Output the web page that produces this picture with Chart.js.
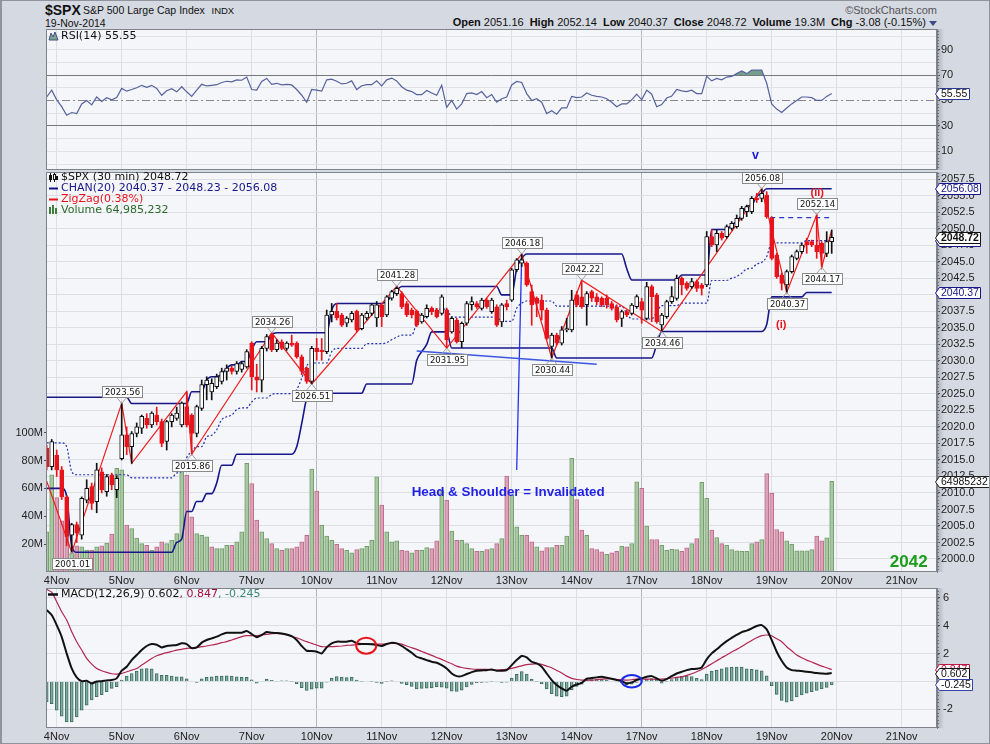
<!DOCTYPE html>
<html>
<head>
<meta charset="utf-8">
<title>$SPX 30 min</title>
<script src="https://cdn.jsdelivr.net/npm/chart.js@4.4.1/dist/chart.umd.min.js"></script>
<style>
html,body{margin:0;padding:0}
body{width:990px;height:744px;position:relative;overflow:hidden;background:#d5d9e1;font-family:"Liberation Sans",Arial,sans-serif;color:#111}
.t{position:absolute;white-space:nowrap;line-height:1}
.pane{position:absolute;left:0;width:990px}
.pane canvas{display:block}
#frame{position:absolute;left:0;top:0;width:990px;height:744px;box-sizing:border-box;border:1px solid #8f949c;border-left-width:2px;pointer-events:none}
.b{font-weight:bold}
#quote span{margin-right:6px}
#tri{position:absolute;left:929px;top:21px;width:0;height:0;border-left:4px solid transparent;border-right:4px solid transparent;border-top:5px solid #3b4a8c}
</style>
</head>
<body>
<div class="t b" style="left:45px;top:3px;font-size:14px">$SPX</div>
<div class="t" style="left:83px;top:5px;font-size:10.5px">S&amp;P 500 Large Cap Index</div>
<div class="t" style="left:211.5px;top:5.9px;font-size:9.5px">INDX</div>
<div class="t" style="left:45px;top:17.8px;font-size:10.5px">19-Nov-2014</div>
<div class="t" style="right:53px;top:4.7px;font-size:11px;color:#555">&copy;StockCharts.com</div>
<div class="t" id="quote" style="left:452.7px;top:17.4px;font-size:11px"><span><b>Open</b> 2051.16</span><span><b>High</b> 2052.14</span><span><b>Low</b> 2040.37</span><span><b>Close</b> 2048.72</span><span><b>Volume</b> 19.3M</span><span><b>Chg</b> -3.08 (-0.15%)</span></div>
<div id="tri"></div>

<div class="pane" style="top:29px;height:141px"><canvas id="cRsi" width="990" height="141"></canvas></div>
<div class="pane" style="top:172px;height:416px"><canvas id="cMain" width="990" height="416"></canvas></div>
<div class="pane" style="top:588px;height:156px"><canvas id="cMacd" width="990" height="156"></canvas></div>
<div id="frame"></div>

<script>
// ---------------- categories / ticks ----------------
const DAY_LABELS = ['4Nov','5Nov','6Nov','7Nov','10Nov','11Nov','12Nov','13Nov','14Nov','17Nov','18Nov','19Nov','20Nov','21Nov'];
const WEEK_STARTS = ['10Nov','17Nov'];
const BARS_PER_DAY = 13;      // 30-minute bars per session
const FIRST_BAR = -2;         // two bars from 3-Nov are visible before 4-Nov
const PRICE_TICKS = [2000,2002.5,2005,2007.5,2010,2012.5,2015,2017.5,2020,2022.5,2025,2027.5,2030,2032.5,2035,2037.5,2040,2042.5,2045,2047.5,2050,2052.5,2055,2057.5];
const VOL_TICKS = [20,40,60,80,100];
const RSI_TICKS = [0,10,20,30,40,50,60,70,80,90,100];
const RSI_LABELS = [10,30,50,70,90];
const MACD_TICKS = [-2,0,2,4,6];

// ---------------- price bars ($SPX 30 min) ----------------
const OP = [2016.8,2014.0,
2015.7,2013.5,2009.4,2003.6,2005.2,2003.6,2008.9,2010.95,2008.7,2013.2,2010.2,2012.7,2010.5,
2015.2,2018.8,2017.0,2019.0,2019.8,2021.3,2020.3,2021.8,2020.8,2017.8,2020.8,2021.3,2020.3,
2023.1,2021.8,2019.0,2022.8,2026.4,2025.3,2026.1,2026.9,2028.4,2028.9,2028.4,2028.7,2029.1,
2032.7,2027.6,2027.1,2031.9,2033.9,2031.7,2032.9,2031.9,2032.7,2032.7,2030.6,2028.9,2026.9,
2031.9,2031.6,2031.4,2036.95,2037.5,2036.95,2035.7,2036.2,2037.5,2034.9,2036.5,2037.2,2036.5,
2038.5,2036.95,2039.5,2040.2,2040.2,2038.7,2037.7,2037.5,2035.9,2036.7,2037.96,2037.7,2037.2,
2037.7,2034.4,2036.2,2032.9,2035.7,2038.5,2038.7,2037.96,2039.2,2037.46,2038.2,2035.9,2038.7,
2039.2,2043.8,2044.8,2044.8,2040.5,2039.5,2039.2,2037.7,2032.2,2033.9,2032.7,2034.7,2034.7,
2040.0,2039.7,2038.5,2040.5,2039.7,2039.5,2039.5,2038.7,2038.2,2036.45,2037.46,2037.2,2038.2,
2038.97,2036.45,2041.25,2039.98,2035.44,2036.7,2038.97,2039.48,2042.51,2041.75,2041.25,2042.0,2041.5,
2041.5,2048.82,2047.56,2049.32,2048.82,2050.08,2050.33,2051.59,2052.6,2052.6,2054.62,2054.62,2055.13,
2051.59,2046.04,2043.01,2041.5,2043.52,2045.54,2046.55,2048.06,2048.06,2047.56,2047.81,2046.29,2048.06];
const HI = [2017.2,2018.1,
2016.5,2014.0,2009.6,2005.4,2005.6,2009.4,2012.0,2011.5,2014.5,2013.8,2012.8,2013.0,2012.6,
2023.56,2020.0,2019.3,2020.6,2021.8,2022.0,2022.3,2023.0,2021.2,2021.0,2022.0,2023.0,2023.8,
2025.34,2022.0,2023.3,2027.1,2027.6,2027.3,2028.0,2028.9,2029.4,2029.2,2029.9,2029.9,2031.7,
2032.9,2029.5,2032.2,2034.0,2034.26,2033.2,2033.2,2032.9,2033.9,2032.9,2030.9,2029.1,2032.2,
2033.4,2033.4,2037.7,2038.7,2038.7,2037.2,2036.7,2037.5,2037.7,2037.2,2037.5,2038.7,2039.0,
2038.7,2039.9,2040.7,2041.28,2040.5,2039.0,2038.0,2037.7,2037.2,2038.5,2038.2,2037.96,2040.0,
2038.0,2036.7,2036.45,2035.9,2039.0,2039.7,2039.0,2039.5,2039.5,2039.5,2038.5,2038.7,2039.2,
2044.0,2045.5,2046.18,2045.0,2041.5,2039.7,2040.0,2038.0,2034.2,2034.2,2035.2,2036.45,2040.7,
2040.5,2042.22,2040.5,2040.7,2040.2,2039.7,2040.0,2039.0,2038.5,2037.7,2037.7,2038.7,2040.0,
2039.5,2041.9,2041.5,2040.24,2037.2,2039.2,2041.25,2043.01,2042.76,2042.0,2042.5,2042.26,2041.75,
2049.6,2049.83,2049.83,2049.6,2050.6,2051.1,2052.1,2053.4,2053.6,2054.9,2055.38,2056.08,2055.63,
2051.85,2046.3,2043.3,2043.77,2046.04,2046.8,2047.81,2048.57,2048.3,2052.14,2048.06,2049.57,2049.83];
const LO = [2013.5,2013.5,
2012.5,2009.0,2002.0,2001.01,2002.5,2003.0,2008.5,2007.5,2007.0,2010.0,2009.5,2010.5,2009.3,
2015.0,2015.8,2014.49,2018.5,2019.0,2019.8,2019.9,2020.3,2017.0,2016.5,2020.0,2021.0,2020.0,
2020.0,2015.86,2018.5,2022.5,2024.1,2024.1,2025.8,2026.5,2027.1,2028.0,2028.0,2028.3,2028.9,
2025.6,2025.3,2025.3,2031.5,2031.4,2031.4,2031.7,2031.6,2032.2,2030.4,2027.9,2026.6,2026.51,
2030.1,2030.1,2031.1,2035.9,2036.2,2035.2,2035.2,2035.9,2034.4,2034.7,2036.2,2036.9,2035.2,
2035.2,2036.7,2039.2,2039.9,2037.9,2036.7,2036.5,2035.2,2035.7,2036.5,2037.0,2036.5,2036.95,
2031.95,2034.2,2032.7,2032.0,2035.4,2037.7,2037.96,2037.7,2037.96,2037.2,2035.2,2035.2,2037.7,
2039.0,2043.5,2044.3,2041.3,2035.4,2036.7,2036.2,2033.2,2030.44,2032.4,2032.4,2034.4,2034.4,
2038.2,2037.96,2035.4,2039.0,2038.5,2038.2,2038.0,2037.7,2035.9,2035.2,2036.7,2036.95,2037.96,
2035.7,2036.2,2035.94,2035.69,2034.46,2036.45,2038.7,2039.2,2040.0,2040.7,2040.99,2040.5,2039.98,
2041.25,2047.3,2046.55,2048.3,2048.6,2049.8,2050.1,2051.3,2051.85,2052.3,2054.0,2054.1,2051.6,
2045.3,2042.5,2040.74,2040.37,2043.3,2045.3,2046.3,2046.3,2047.3,2045.54,2044.17,2045.79,2046.29];
const CL = [2014.0,2017.8,
2013.5,2009.4,2003.4,2005.2,2003.9,2009.2,2010.7,2008.4,2013.5,2010.45,2012.5,2011.2,2012.2,
2018.8,2017.0,2019.0,2020.0,2021.6,2020.3,2022.1,2020.8,2017.5,2020.8,2021.8,2022.1,2023.6,
2020.3,2019.0,2023.1,2026.4,2027.1,2026.6,2027.6,2028.4,2028.9,2028.4,2029.6,2029.6,2031.4,
2027.6,2027.1,2031.9,2033.7,2031.7,2032.7,2031.9,2032.7,2032.4,2030.6,2028.4,2026.9,2031.9,
2031.4,2031.4,2036.95,2037.5,2036.5,2035.4,2036.5,2037.2,2034.7,2036.95,2037.2,2038.5,2038.5,
2036.7,2039.7,2040.5,2041.0,2038.2,2036.95,2036.95,2035.4,2036.95,2037.96,2037.46,2036.7,2039.7,
2033.2,2036.45,2032.9,2035.7,2038.7,2038.97,2038.2,2039.2,2038.2,2039.2,2035.4,2038.5,2038.2,
2043.8,2045.3,2045.3,2041.5,2038.5,2038.7,2037.7,2033.4,2033.9,2032.7,2034.7,2034.9,2039.2,
2038.5,2038.2,2040.2,2039.5,2038.97,2038.5,2038.5,2037.96,2036.2,2037.46,2036.95,2038.47,2039.73,
2037.7,2041.25,2039.73,2035.94,2036.95,2038.97,2039.73,2042.51,2041.5,2040.99,2042.0,2040.99,2040.99,
2048.82,2047.56,2049.32,2048.57,2050.33,2050.84,2051.59,2053.11,2053.36,2054.62,2054.37,2055.38,2051.85,
2045.54,2042.76,2041.75,2043.52,2045.79,2046.55,2047.56,2047.56,2047.56,2046.55,2046.29,2048.06,2048.72];
// volume, millions of shares
const VOL = [28.8,69.7,
53.4,36.7,26.0,14.0,18.8,18.1,15.7,15.7,18.1,18.8,20.7,27.2,74.4,
73.3,33.6,31.2,24.3,20.4,19.2,15.6,18.0,21.6,20.4,22.8,27.6,73.1,
69.5,39.6,27.6,26.4,25.2,18.0,16.8,16.8,19.2,19.2,21.6,28.8,77.9,
63.5,37.2,28.8,24.0,20.4,16.8,15.6,16.8,16.8,18.0,21.6,26.4,73.9,
58.0,33.6,25.7,22.8,19.9,16.8,15.6,13.7,16.1,16.8,18.5,22.8,68.3,
48.0,28.8,21.6,22.3,15.6,15.1,13.7,15.6,15.6,17.5,16.8,22.3,58.8,
51.6,29.3,22.8,22.8,20.4,16.8,14.9,14.9,16.1,16.8,20.4,24.0,68.8,
55.2,32.4,26.4,26.4,21.6,18.0,15.1,17.5,17.5,19.2,19.2,25.7,81.5,
52.0,30.0,26.4,16.8,16.1,14.4,12.7,13.7,14.9,18.5,18.0,20.4,64.7,
60.0,32.9,23.3,23.3,19.2,15.6,16.3,16.1,14.9,17.3,20.4,24.0,64.3,
52.8,30.0,24.7,20.4,19.2,16.1,15.1,14.9,14.9,20.4,21.6,23.3,70.7,
56.4,30.5,28.8,22.3,19.9,15.1,15.1,15.1,16.1,25.7,22.3,24.5,64.985232];

// ---------------- price channel CHAN(20) ----------------
const CH_UP = [2024.5,2024.5,
2024.5,2024.5,2024.5,2024.5,2024.5,2024.5,2024.5,2024.5,2024.5,2024.5,2024.5,2024.5,2024.5,
2024.5,2024.5,2023.56,2023.56,2023.56,2023.56,2023.56,2023.56,2023.56,2023.56,2023.56,2023.56,2023.56,
2023.56,2025.34,2025.34,2025.34,2027.1,2027.6,2027.6,2028.0,2028.9,2029.4,2029.4,2029.9,2029.9,
2031.7,2032.9,2032.9,2032.9,2034.0,2034.26,2034.26,2034.26,2034.26,2034.26,2034.26,2034.26,2034.26,
2034.26,2034.26,2034.26,2037.7,2038.7,2038.7,2038.7,2038.7,2038.7,2038.7,2038.7,2038.7,2038.7,
2038.7,2039.0,2039.9,2040.7,2041.28,2041.28,2041.28,2041.28,2041.28,2041.28,2041.28,2041.28,2041.28,
2041.28,2041.28,2041.28,2041.28,2041.28,2041.28,2041.28,2041.28,2041.28,2041.28,2041.28,2040.0,2040.0,
2040.0,2044.0,2045.5,2046.18,2046.18,2046.18,2046.18,2046.18,2046.18,2046.18,2046.18,2046.18,2046.18,
2046.18,2046.18,2046.18,2046.18,2046.18,2046.18,2046.18,2046.18,2046.18,2046.18,2044.0,2042.26,2042.26,
2042.26,2042.26,2042.26,2042.26,2042.26,2042.26,2042.26,2042.26,2043.01,2043.01,2043.01,2043.01,2043.01,
2043.01,2049.9,2049.9,2049.9,2049.9,2050.6,2051.1,2052.1,2053.4,2053.6,2054.9,2055.38,2056.08,
2056.08,2056.08,2056.08,2056.08,2056.08,2056.08,2056.08,2056.08,2056.08,2056.08,2056.08,2056.08,2056.08];
const CH_LO = [2010.7,2010.7,
2010.7,2010.7,2009.5,2002.0,2001.01,2001.01,2001.01,2001.01,2001.01,2001.01,2001.01,2001.01,2001.01,
2001.01,2001.01,2001.01,2001.01,2001.01,2001.01,2001.01,2001.01,2001.01,2001.01,2001.01,2002.5,2003.0,
2007.2,2007.2,2008.7,2008.7,2009.9,2009.9,2011.5,2014.2,2014.2,2014.2,2015.86,2015.86,2015.86,
2015.86,2015.86,2015.86,2015.86,2015.86,2015.86,2015.86,2015.86,2015.86,2017.0,2020.5,2024.3,2025.1,
2025.1,2025.1,2025.1,2025.1,2025.1,2025.1,2025.1,2025.1,2025.1,2025.1,2026.51,2026.51,2026.51,
2026.51,2026.51,2026.51,2026.51,2026.51,2026.51,2026.51,2030.1,2031.4,2032.5,2034.4,2034.4,2034.4,
2034.4,2031.95,2031.95,2031.95,2031.95,2031.95,2031.95,2031.95,2031.95,2031.95,2031.95,2031.95,2031.95,
2031.95,2031.95,2031.95,2031.95,2031.95,2031.95,2031.95,2031.95,2031.95,2030.44,2030.44,2030.44,2030.44,
2030.44,2030.44,2030.44,2030.44,2030.44,2030.44,2030.44,2030.44,2030.44,2030.44,2030.44,2030.44,2030.44,
2030.44,2030.44,2030.44,2032.5,2034.46,2034.46,2034.46,2034.46,2034.46,2034.46,2034.46,2034.46,2034.46,
2034.46,2034.46,2034.46,2034.46,2034.46,2034.46,2034.46,2034.46,2034.46,2034.46,2034.46,2034.46,2035.5,
2039.7,2039.7,2039.7,2039.7,2039.7,2039.7,2039.7,2040.37,2040.37,2040.37,2040.37,2040.37,2040.37];
const CH_MID = [2017.6,2017.6,
2017.6,2017.6,2017.0,2013.25,2012.76,2012.76,2012.76,2012.76,2012.76,2012.76,2012.76,2012.76,2012.76,
2012.76,2012.76,2012.29,2012.29,2012.29,2012.29,2012.29,2012.29,2012.29,2012.29,2012.29,2013.03,2013.28,
2015.38,2016.27,2017.02,2017.02,2018.5,2018.75,2019.55,2021.1,2021.55,2021.8,2022.63,2022.88,2022.88,
2023.78,2024.38,2024.38,2024.38,2024.93,2025.06,2025.06,2025.06,2025.06,2025.63,2027.38,2029.28,2029.68,
2029.68,2029.68,2029.68,2031.4,2031.9,2031.9,2031.9,2031.9,2031.9,2031.9,2032.61,2032.61,2032.61,
2032.61,2032.76,2033.21,2033.61,2033.9,2033.9,2033.9,2035.69,2036.34,2036.89,2037.84,2037.84,2037.84,
2037.84,2036.62,2036.62,2036.62,2036.62,2036.62,2036.62,2036.62,2036.62,2036.62,2036.62,2035.98,2035.98,
2035.98,2037.98,2038.73,2039.07,2039.07,2039.07,2039.07,2039.07,2039.07,2038.31,2038.31,2038.31,2038.31,
2038.31,2038.31,2038.31,2038.31,2038.31,2038.31,2038.31,2038.31,2038.31,2038.31,2037.22,2036.35,2036.35,
2036.35,2036.35,2036.35,2037.38,2038.36,2038.36,2038.36,2038.36,2038.74,2038.74,2038.74,2038.74,2038.74,
2038.74,2042.18,2042.18,2042.18,2042.18,2042.53,2042.78,2043.28,2043.93,2044.03,2044.68,2044.92,2045.79,
2047.89,2047.89,2047.89,2047.89,2047.89,2047.89,2047.89,2048.23,2048.23,2048.23,2048.23,2048.23,2048.23];

// ---------------- ZigZag(0.38%) pivots ----------------
const ZZ_BAR = [-2,3,13,15,26,27,43,51,68,78,93,99,105,121,141,146,152,153,155];
const ZZ_VAL = [2011.8,2001.01,2023.56,2014.49,2025.34,2015.86,2034.26,2026.51,2041.28,2031.95,2046.18,2030.44,2042.22,2034.46,2056.08,2040.37,2052.14,2044.17,2049.83];
const ZZ_SHOW = [0,1,1,0,0,1,1,1,1,1,1,1,1,1,1,1,1,1,0];

// ---------------- hand-drawn annotations (bar, value) ----------------
const NECK_BAR = [72,108];       const NECK_VAL = [2031.5,2029.48];
const HS_BAR = [93,92];          const HS_VAL = [2046.0,2013.47];
const RES_BAR = [142.7,155.3];   const RES_VAL = [2051.7,2051.7];
const NOTE_TEXT = ['(ii)','(i)','2042','Head & Shoulder = Invalidated'];
const NOTE_BAR = [152.1,144.9,170.4,90.3];
const NOTE_VAL = [2055.5,2035.43,1999.47,2010.07];
const RSI_NOTE_TEXT = ['v'];  const RSI_NOTE_BAR = [139.76]; const RSI_NOTE_VAL = [6.06];
const MACD_RING_BAR = [61.9,115]; const MACD_RING_VAL = [2.56,0.01];

// ---------------- RSI(14) ----------------
const RSI = [52.7,58.1,50.5,45.1,38.4,40.5,39.7,47.3,50,46.5,
52.7,49.2,52.2,50.5,52.2,59.5,57.3,58.6,60,61.9,
60.3,61.9,59.5,54.1,57.6,59.2,56.8,60.8,56.8,53.2,
58.1,62.7,61.4,61.9,62.4,64.1,65.1,64.6,66.2,65.9,
68.4,58.6,58.1,64.9,67.3,62.7,63.5,62.2,62.7,62.2,
58.6,54.1,48.6,58.6,58.1,57.3,66.2,66.8,65.1,63,
63.5,65.4,58.6,61.6,62.4,62.4,65.4,61.4,66.2,67.6,
65.4,60.8,58.1,57,54.6,54.6,57.8,55.9,54.1,61.9,
44.6,50,43.2,47.3,55.4,55.9,54.6,57,52.2,54.6,
48.6,51.4,52.7,62.2,64.9,64.1,55.4,50,51.4,48.6,
39.7,41.9,39.2,44.1,44.1,53.2,52.2,52.7,55.9,54.1,
53.2,52.7,51.4,48.6,45.1,47.3,47.3,50.5,54.9,50.5,
58.1,54.9,45.1,46.8,51.9,53.5,58.6,57.6,57,58.1,
55.4,55.4,68.9,65.4,67.3,66.2,68.4,68.9,71.1,73.2,
71.1,73.8,73.8,73.8,63.5,47.3,43.2,40.5,44.1,47.3,
50,52.7,52.7,52.2,50,50,53.2,55.55];

// ---------------- MACD(12,26,9) ----------------
const MACD = [5.12,4.76,
4.04,3.2,2.0,0.93,0.29,0.02,0.05,-0.14,0,0.02,0.07,0.1,0.22,
0.77,1.05,1.53,1.89,2.25,2.54,2.68,2.63,2.44,2.54,2.58,2.61,2.73,
2.68,2.39,2.44,2.78,2.97,3.09,3.21,3.37,3.49,3.49,3.49,3.49,3.61,
3.4,3.16,3.33,3.54,3.49,3.47,3.44,3.37,3.25,2.97,2.54,2.2,2.18,
2.13,2.01,2.44,2.73,2.85,2.85,2.85,2.92,2.73,2.68,2.68,2.66,2.61,
2.54,2.68,2.78,2.73,2.54,2.3,2.06,1.77,1.65,1.53,1.41,1.34,1.17,
0.93,0.57,0.38,0.38,0.53,0.67,0.77,0.79,0.81,0.86,0.77,0.77,0.81,
1.17,1.53,1.82,1.72,1.41,1.29,1.05,0.57,0.1,-0.26,-0.5,-0.67,-0.38,
-0.22,-0.1,0.19,0.24,0.29,0.33,0.26,0.19,0.1,0.02,-0.14,-0.07,0.1,
0.22,0.33,0.38,0.22,0.05,0.17,0.38,0.57,0.69,0.81,0.89,0.91,1.0,
1.58,2.01,2.3,2.61,2.89,3.13,3.33,3.54,3.64,3.8,3.97,4.04,3.73,
2.97,2.13,1.48,1.0,0.81,0.77,0.74,0.69,0.65,0.6,0.57,0.55,0.602];
const SIG = [6.6,6.4,
5.72,5.0,4.4,3.56,2.85,2.25,1.65,1.24,0.93,0.77,0.65,0.55,0.53,
0.57,0.69,0.81,0.93,1.17,1.41,1.65,1.84,1.96,2.06,2.15,2.25,2.3,
2.37,2.39,2.44,2.49,2.54,2.61,2.68,2.78,2.85,2.97,3.09,3.21,3.28,
3.28,3.28,3.33,3.37,3.42,3.44,3.4,3.33,3.23,3.13,2.99,2.85,2.73,
2.61,2.49,2.49,2.49,2.51,2.54,2.58,2.61,2.63,2.66,2.68,2.68,2.68,
2.68,2.7,2.73,2.73,2.68,2.54,2.42,2.3,2.15,2.01,1.87,1.72,1.58,
1.41,1.27,1.1,1.0,0.93,0.89,0.86,0.86,0.86,0.84,0.81,0.84,0.86,
0.93,1.03,1.12,1.2,1.24,1.27,1.22,1.1,0.98,0.79,0.6,0.38,0.22,
0.14,0.1,0.1,0.1,0.12,0.17,0.19,0.19,0.14,0.12,0.1,0.12,0.17,
0.17,0.17,0.17,0.14,0.17,0.19,0.24,0.29,0.33,0.43,0.55,0.69,0.86,
1.05,1.27,1.48,1.7,1.89,2.11,2.3,2.51,2.73,2.94,3.13,3.28,3.33,
3.28,3.06,2.85,2.49,2.2,1.89,1.7,1.53,1.39,1.24,1.1,0.98,0.847];
const HIST = [-1.46,-1.6,
-2.06,-2.5,-2.9,-2.9,-2.54,-2.06,-1.7,-1.33,-1.1,-0.95,-0.74,-0.5,-0.38,
0.1,0.38,0.57,0.74,0.9,0.93,0.9,0.57,0.43,0.43,0.38,0.33,0.33,
0.19,0,-0.07,0.19,0.29,0.33,0.38,0.38,0.4,0.38,0.33,0.29,0.29,
0.12,-0.12,0,0.17,0.07,0.03,0.04,0.04,0.02,-0.16,-0.45,-0.65,-0.55,
-0.48,-0.48,-0.05,0.24,0.34,0.31,0.27,0.31,0.1,0.02,0,-0.02,-0.07,
-0.14,-0.02,0.05,0,-0.14,-0.24,-0.36,-0.53,-0.5,-0.48,-0.46,-0.38,-0.41,
-0.48,-0.7,-0.72,-0.62,-0.4,-0.22,-0.09,-0.07,-0.05,0.02,-0.04,-0.07,-0.05,
0.24,0.5,0.7,0.52,0.17,0.02,-0.17,-0.53,-0.88,-1.05,-1.1,-1.05,-0.6,
-0.36,-0.2,0.09,0.14,0.17,0.16,0.07,0,-0.04,-0.1,-0.24,-0.19,-0.07,
0.05,0.16,0.21,0.08,-0.12,-0.02,0.14,0.28,0.36,0.38,0.34,0.22,0.14,
0.53,0.74,0.82,0.91,1.0,1.02,1.03,1.03,0.91,0.86,0.84,0.76,0.4,
-0.31,-0.93,-1.37,-1.49,-1.39,-1.12,-0.96,-0.84,-0.74,-0.64,-0.53,-0.43,-0.245];

// =============== rendering ===============
const BAR = OP.map((_, k) => FIRST_BAR + k);
const LAST = OP.length - 1;
const X_MIN = -2.14, X_MAX = 176.06;
const AX_FONT = {family: '"Liberation Sans", Arial, sans-serif', size: 11};
const LG_FONT = '11px "DejaVu Sans", Verdana, sans-serif';
const NAVY = '#17178a';
const RED = '#e8141c';

Chart.defaults.animation = false;
Chart.defaults.font.family = AX_FONT.family;
Chart.defaults.color = '#222';

const pts = (xs, ys) => xs.map((x, k) => ({x, y: ys[k]}));

function xScale(labels) {
  return {
    type: 'linear', min: X_MIN, max: X_MAX, offset: false,
    afterBuildTicks: s => { s.ticks = DAY_LABELS.map((_, k) => ({value: k * BARS_PER_DAY})); },
    afterFit: s => { s.height = labels ? 16 : 0; s.paddingLeft = 0; s.paddingRight = 0; },
    ticks: {display: labels, autoSkip: false, maxRotation: 0, minRotation: 0, padding: 2, color: '#222', font: AX_FONT,
            callback: (v, i) => DAY_LABELS[i]},
    grid: {offset: false, drawTicks: false,
           color: c => (c.tick && WEEK_STARTS.includes(DAY_LABELS[c.index])) ? '#b3b7bf' : '#dcdfe5'},
    border: {display: false}
  };
}
function rightAxis(extra) {
  return Object.assign({
    position: 'right',
    afterFit: s => { s.width = 53; s.paddingTop = 0; s.paddingBottom = 0; },
    ticks: {autoSkip: false, padding: 1, color: '#222', font: AX_FONT},
    grid: {color: '#dcdfe5', tickColor: '#4a4d55', tickLength: 3},
    border: {color: '#80848c'}
  }, extra);
}

function tag(ctx, tipX, y, text, edge, ink, bold) {
  ctx.save();
  ctx.font = (bold ? 'bold ' : '') + '10.5px "Liberation Sans", Arial, sans-serif';
  const w = Math.ceil(ctx.measureText(text).width) + 3;
  const h = 11;
  const y0 = Math.round(y - h / 2) + 0.5;
  const x0 = Math.round(tipX) + 3.5;
  ctx.beginPath();
  ctx.moveTo(x0 - 4, y0 + h / 2);
  ctx.lineTo(x0, y0);
  ctx.lineTo(x0 + w, y0);
  ctx.lineTo(x0 + w, y0 + h);
  ctx.lineTo(x0, y0 + h);
  ctx.closePath();
  ctx.fillStyle = '#ffffff'; ctx.fill();
  ctx.lineWidth = 1; ctx.strokeStyle = edge; ctx.stroke();
  ctx.fillStyle = ink; ctx.textAlign = 'left'; ctx.textBaseline = 'middle';
  ctx.fillText(text, x0 + 1.5, y0 + h / 2 + 0.5);
  ctx.restore();
}
function legendLine(ctx, x, y, parts) {
  ctx.save();
  ctx.font = LG_FONT; ctx.textAlign = 'left'; ctx.textBaseline = 'middle';
  let cx = x;
  parts.forEach(([t, c]) => { ctx.fillStyle = c; ctx.fillText(t, cx, y); cx += ctx.measureText(t).width; });
  ctx.restore();
}

const panelPlugin = {
  id: 'panel',
  beforeDraw(chart) {
    const {ctx, chartArea: a} = chart;
    ctx.save();
    ctx.fillStyle = '#f5f6fa';
    ctx.fillRect(a.left, a.top, a.right - a.left, a.bottom - a.top);
    const g = ctx.createLinearGradient(a.right, 0, a.right + 7, 0);
    g.addColorStop(0, 'rgba(95,100,115,0.35)');
    g.addColorStop(1, 'rgba(95,100,115,0)');
    ctx.fillStyle = g;
    ctx.fillRect(a.right, a.top, 7, a.bottom - a.top);
    ctx.restore();
  },
  afterDraw(chart, args, opts) {
    const {ctx, chartArea: a} = chart;
    const ys = chart.scales.y;
    ctx.save();
    ctx.strokeStyle = '#6f737c';
    ctx.lineWidth = 1;
    ctx.beginPath();
    for (let v = Math.ceil(ys.min / opts.minor) * opts.minor; v <= ys.max; v += opts.minor) {
      const p = Math.round(ys.getPixelForValue(v)) + 0.5;
      ctx.moveTo(a.right, p); ctx.lineTo(a.right + 2, p);
    }
    ctx.stroke();
    ctx.strokeStyle = '#7e828b';
    ctx.strokeRect(a.left + 0.5, a.top + 0.5, a.right - a.left - 1, a.bottom - a.top - 1);
    ctx.restore();
  }
};

// ---------- RSI pane ----------
const rsiPlugin = {
  id: 'rsiDeco',
  afterDraw(chart) {
    const {ctx, chartArea: a} = chart;
    const xs = chart.scales.x, ys = chart.scales.y;
    ctx.save();
    ctx.fillStyle = '#7ea494'; ctx.strokeStyle = '#45507e'; ctx.lineWidth = 1;
    ctx.beginPath();
    ctx.moveTo(49, 11); ctx.lineTo(51, 4); ctx.lineTo(53, 8); ctx.lineTo(55, 3); ctx.lineTo(58, 11); ctx.closePath();
    ctx.fill(); ctx.stroke();
    ctx.restore();
    legendLine(ctx, 61, 7.5, [['RSI(14) ' + RSI[LAST].toFixed(2), '#111']]);
    ctx.save();
    ctx.font = 'bold 12.5px "Liberation Sans", Arial, sans-serif';
    ctx.fillStyle = '#1818e0'; ctx.textAlign = 'center'; ctx.textBaseline = 'middle';
    RSI_NOTE_TEXT.forEach((t, k) => ctx.fillText(t, xs.getPixelForValue(RSI_NOTE_BAR[k]), ys.getPixelForValue(RSI_NOTE_VAL[k]) - 1));
    ctx.restore();
    tag(ctx, a.right - 1.5, ys.getPixelForValue(RSI[LAST]), RSI[LAST].toFixed(2), '#2b3990', '#111', false);
  }
};
new Chart(document.getElementById('cRsi'), {
  type: 'line',
  data: {datasets: [{
    data: pts(BAR, RSI), borderColor: '#56629c', borderWidth: 1.2, pointRadius: 0, tension: 0,
    fill: {target: {value: 70}, above: '#74a08b', below: 'rgba(0,0,0,0)'}
  }]},
  options: {
    responsive: false, events: [], layout: {padding: {left: 46}},
    plugins: {legend: {display: false}, tooltip: {enabled: false}, panel: {minor: 2.5}},
    scales: {
      x: xScale(false),
      y: rightAxis({
        min: -4.7, max: 106.2,
        afterBuildTicks: s => { s.ticks = RSI_TICKS.map(v => ({value: v})); },
        ticks: {autoSkip: false, padding: 1, color: '#222', font: AX_FONT, callback: v => RSI_LABELS.includes(v) ? String(v) : ''},
        grid: {
          color: c => { const v = c.tick ? c.tick.value : null; return (v === 70 || v === 30) ? '#75787f' : (v === 50 ? '#85888f' : '#dfe2e7'); },
          tickColor: c => (c.tick && RSI_LABELS.includes(c.tick.value)) ? '#4a4d55' : 'rgba(0,0,0,0)',
          tickLength: 3
        },
        border: {color: '#80848c', dash: c => (c.tick && c.tick.value === 50) ? [8, 3, 2, 3] : []}
      })
    }
  },
  plugins: [panelPlugin, rsiPlugin]
});

// ---------- main price pane ----------
const isDown = k => CL[k] < OP[k];
const volUp = k => k === 0 || CL[k] >= CL[k - 1];

const zzPlugin = {
  id: 'zzLabels',
  afterDatasetsDraw(chart) {
    const {ctx} = chart;
    const xs = chart.scales.x, ys = chart.scales.y;
    ctx.save();
    ctx.font = '8.5px "DejaVu Sans", Verdana, sans-serif';
    ctx.textAlign = 'center'; ctx.textBaseline = 'middle';
    ZZ_VAL.forEach((v, k) => {
      if (!ZZ_SHOW[k]) return;
      const peak = v > ZZ_VAL[k - 1];
      const px = xs.getPixelForValue(ZZ_BAR[k]), py = ys.getPixelForValue(v);
      const txt = v.toFixed(2);
      const w = Math.round(ctx.measureText(txt).width) + 5, h = 11;
      const ey = peak ? py - 6 : py + 6;
      const by = Math.round(peak ? ey - h : ey) + 0.5;
      const bx = Math.round(px - w / 2) + 0.5;
      ctx.strokeStyle = '#a0a0a0'; ctx.lineWidth = 1;
      ctx.beginPath(); ctx.moveTo(px - 5, ey); ctx.lineTo(px, py); ctx.lineTo(px + 5, ey); ctx.stroke();
      ctx.fillStyle = '#fdfdfe'; ctx.fillRect(bx, by, w, h);
      ctx.strokeStyle = '#8a8a8a'; ctx.strokeRect(bx, by, w, h);
      ctx.fillStyle = '#111'; ctx.fillText(txt, bx + w / 2, by + h / 2 + 0.5);
    });
    ctx.restore();
  }
};
const mainPlugin = {
  id: 'mainDeco',
  afterDraw(chart) {
    const {ctx, chartArea: a} = chart;
    const xs = chart.scales.x, ys = chart.scales.y, vs = chart.scales.vol;
    const styles = [
      ['bold 11px "Liberation Sans", Arial, sans-serif', RED],
      ['bold 11px "Liberation Sans", Arial, sans-serif', RED],
      ['bold 17px "Liberation Sans", Arial, sans-serif', '#1c9e1c'],
      ['bold 13.4px "Liberation Sans", Arial, sans-serif', '#1f1fe8']
    ];
    ctx.save();
    ctx.textAlign = 'center'; ctx.textBaseline = 'middle';
    NOTE_TEXT.forEach((t, k) => {
      ctx.font = styles[k][0]; ctx.fillStyle = styles[k][1];
      ctx.fillText(t, xs.getPixelForValue(NOTE_BAR[k]), ys.getPixelForValue(NOTE_VAL[k]));
    });
    ctx.restore();
    ctx.save();
    ctx.strokeStyle = '#111'; ctx.fillStyle = '#fff'; ctx.lineWidth = 1;
    ctx.beginPath(); ctx.moveTo(50.5, 1); ctx.lineTo(50.5, 10); ctx.moveTo(54.5, 1); ctx.lineTo(54.5, 10); ctx.stroke();
    ctx.fillStyle = '#111'; ctx.fillRect(49, 3, 3, 5);
    ctx.fillStyle = '#fff'; ctx.fillRect(53.5, 2.5, 2, 5); ctx.strokeRect(53.5, 2.5, 2, 5);
    ctx.fillStyle = '#111'; ctx.fillRect(56, 4, 2, 4);
    ctx.strokeStyle = NAVY; ctx.lineWidth = 2;
    ctx.beginPath(); ctx.moveTo(49, 16.5); ctx.lineTo(58, 16.5); ctx.stroke();
    ctx.strokeStyle = RED;
    ctx.beginPath(); ctx.moveTo(49, 27.5); ctx.lineTo(58, 27.5); ctx.stroke();
    ctx.fillStyle = '#3f7d3f';
    ctx.fillRect(49, 35, 2, 7); ctx.fillRect(52, 33, 2, 9); ctx.fillRect(55, 36, 2, 6);
    ctx.restore();
    const U = CH_UP[LAST], M = CH_MID[LAST], L = CH_LO[LAST];
    legendLine(ctx, 61, 5.5, [['$SPX (30 min) ' + CL[LAST].toFixed(2), '#111']]);
    legendLine(ctx, 61, 16.5, [['CHAN(20) ' + L.toFixed(2) + ' - ' + M.toFixed(2) + ' - ' + U.toFixed(2), NAVY]]);
    legendLine(ctx, 61, 27.5, [['ZigZag(0.38%)', RED]]);
    legendLine(ctx, 61, 38.5, [['Volume ' + Math.round(VOL[LAST] * 1e6).toLocaleString('en-US'), '#2c6a2c']]);
    const tip = a.right - 1.5;
    tag(ctx, tip, ys.getPixelForValue(U), U.toFixed(2), NAVY, NAVY, false);
    tag(ctx, tip, ys.getPixelForValue(M), M.toFixed(2), NAVY, NAVY, false);
    tag(ctx, tip, ys.getPixelForValue(CL[LAST]), CL[LAST].toFixed(2), '#111', '#111', true);
    tag(ctx, tip, ys.getPixelForValue(L), L.toFixed(2), NAVY, NAVY, false);
    tag(ctx, tip, vs.getPixelForValue(VOL[LAST]), String(Math.round(VOL[LAST] * 1e6)), '#222', '#111', false);
  }
};

new Chart(document.getElementById('cMain'), {
  type: 'bar',
  data: {datasets: [
    {type: 'bar', yAxisID: 'vol', order: 10, grouped: false, barThickness: 4, borderWidth: 1,
     data: pts(BAR, VOL),
     backgroundColor: BAR.map((_, k) => volUp(k) ? '#a9c7a3' : '#dba2b6'),
     borderColor: BAR.map((_, k) => volUp(k) ? '#74a06d' : '#bf6f8c')},
    {type: 'line', yAxisID: 'y', order: 6, data: pts(BAR, CH_UP), borderColor: NAVY, borderWidth: 1.6, pointRadius: 0, cubicInterpolationMode: 'monotone'},
    {type: 'line', yAxisID: 'y', order: 6, data: pts(BAR, CH_LO), borderColor: NAVY, borderWidth: 1.6, pointRadius: 0, cubicInterpolationMode: 'monotone'},
    {type: 'line', yAxisID: 'y', order: 6, data: pts(BAR, CH_MID), borderColor: '#2430b0', borderWidth: 1.2, borderDash: [2, 2], pointRadius: 0, cubicInterpolationMode: 'monotone'},
    {type: 'line', yAxisID: 'y', order: 5, data: pts(NECK_BAR, NECK_VAL), borderColor: '#3b57e4', borderWidth: 1.5, pointRadius: 0},
    {type: 'line', yAxisID: 'y', order: 5, data: pts(HS_BAR, HS_VAL), borderColor: '#2233ee', borderWidth: 1.3, pointRadius: 0},
    {type: 'line', yAxisID: 'y', order: 5, data: pts(RES_BAR, RES_VAL), borderColor: '#2a3ad0', borderWidth: 1.2, borderDash: [5, 4], pointRadius: 0},
    {type: 'line', yAxisID: 'y', order: 3, data: pts(ZZ_BAR, ZZ_VAL), borderColor: '#ee1c1c', borderWidth: 1.2, pointRadius: 0, tension: 0},
    {type: 'bar', yAxisID: 'y', order: 2, grouped: false, barThickness: 1, borderWidth: 0,
     data: BAR.map((x, k) => ({x, y: [LO[k], HI[k]]})),
     backgroundColor: BAR.map((_, k) => isDown(k) ? RED : '#111')},
    {type: 'bar', yAxisID: 'y', order: 1, grouped: false, barThickness: 4, minBarLength: 1, borderWidth: 1, borderSkipped: false,
     data: BAR.map((x, k) => ({x, y: [OP[k], CL[k]]})),
     backgroundColor: BAR.map((_, k) => isDown(k) ? RED : '#ffffff'),
     borderColor: BAR.map((_, k) => isDown(k) ? RED : '#111')}
  ]},
  options: {
    responsive: false, events: [], layout: {padding: 0},
    plugins: {legend: {display: false}, tooltip: {enabled: false}, panel: {minor: 0.5}},
    scales: {
      x: xScale(true),
      y: rightAxis({
        min: 1998.03, max: 2058.61,
        afterBuildTicks: s => { s.ticks = PRICE_TICKS.map(v => ({value: v})); },
        ticks: {autoSkip: false, padding: 1, color: '#222', font: AX_FONT, callback: v => Number(v).toFixed(1)}
      }),
      vol: {
        position: 'left', min: 0, max: 287,
        afterBuildTicks: s => { s.ticks = VOL_TICKS.map(v => ({value: v})); },
        afterFit: s => { s.width = 46; s.paddingTop = 0; s.paddingBottom = 0; },
        ticks: {autoSkip: false, padding: 1, color: '#222', font: AX_FONT, callback: v => v + 'M'},
        grid: {drawOnChartArea: false, tickColor: '#4a4d55', tickLength: 2},
        border: {display: false}
      }
    }
  },
  plugins: [panelPlugin, zzPlugin, mainPlugin]
});

// ---------- MACD pane ----------
const macdPlugin = {
  id: 'macdDeco',
  afterDatasetsDraw(chart) {
    const {ctx} = chart;
    const xs = chart.scales.x, ys = chart.scales.y;
    const ringColor = ['#e8141c', '#1a2ae6'];
    const ringSize = [[10, 8], [10, 6.2]];
    ctx.save();
    ctx.lineWidth = 2;
    MACD_RING_BAR.forEach((b, k) => {
      ctx.strokeStyle = ringColor[k];
      ctx.beginPath();
      ctx.ellipse(xs.getPixelForValue(b), ys.getPixelForValue(MACD_RING_VAL[k]), ringSize[k][0], ringSize[k][1], 0, 0, Math.PI * 2);
      ctx.stroke();
    });
    ctx.restore();
  },
  afterDraw(chart) {
    const {ctx, chartArea: a} = chart;
    const ys = chart.scales.y;
    ctx.save();
    ctx.strokeStyle = '#111'; ctx.lineWidth = 2.5;
    ctx.beginPath(); ctx.moveTo(48, 6.5); ctx.lineTo(58, 6.5); ctx.stroke();
    ctx.restore();
    const m = MACD[LAST], s = SIG[LAST], h = HIST[LAST];
    legendLine(ctx, 61, 6.5, [['MACD(12,26,9) ' + m.toFixed(3), '#111'], [', ' + s.toFixed(3), '#a0123e'], [', ' + h.toFixed(3), '#3e8a78']]);
    const tip = a.right - 1.5;
    tag(ctx, tip, ys.getPixelForValue(s), s.toFixed(3), '#c0163f', '#b0123a', false);
    tag(ctx, tip, ys.getPixelForValue(m), m.toFixed(3), '#111', '#111', false);
    tag(ctx, tip, ys.getPixelForValue(h), h.toFixed(3), '#3445a8', '#111', false);
  }
};
new Chart(document.getElementById('cMacd'), {
  type: 'bar',
  data: {datasets: [
    {type: 'bar', order: 3, grouped: false, barThickness: 3, borderWidth: 1,
     data: pts(BAR, HIST), backgroundColor: '#82ad9f', borderColor: '#3c6f61'},
    {type: 'line', order: 2, data: pts(BAR, SIG), borderColor: '#b3264f', borderWidth: 1.2, pointRadius: 0, tension: 0.2},
    {type: 'line', order: 1, data: pts(BAR, MACD), borderColor: '#111', borderWidth: 2, pointRadius: 0, tension: 0.2}
  ]},
  options: {
    responsive: false, events: [], layout: {padding: {left: 46}},
    plugins: {legend: {display: false}, tooltip: {enabled: false}, panel: {minor: 0.25}},
    scales: {
      x: xScale(true),
      y: rightAxis({
        min: -3.34, max: 6.7,
        afterBuildTicks: s => { s.ticks = MACD_TICKS.map(v => ({value: v})); },
        ticks: {autoSkip: false, padding: 3, color: '#222', font: AX_FONT, callback: v => String(v)}
      })
    }
  },
  plugins: [panelPlugin, macdPlugin]
});
</script>
</body>
</html>
